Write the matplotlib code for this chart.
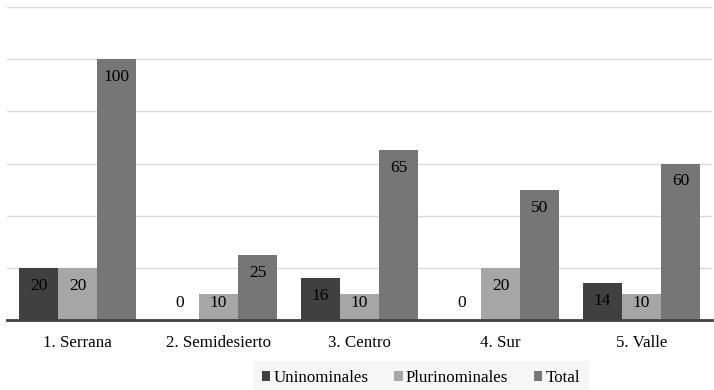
import matplotlib
matplotlib.use("Agg")
import matplotlib.pyplot as plt
import numpy as np

categories = ["1. Serrana", "2. Semidesierto", "3. Centro", "4. Sur", "5. Valle"]
series_names = ["Uninominales", "Plurinominales", "Total"]
uninominales = [20, 0, 16, 0, 14]
plurinominales = [20, 10, 10, 20, 10]
total = [100, 25, 65, 50, 60]
colors = ["#404040", "#a6a6a6", "#767676"]

plt.rcParams['font.family'] = ['Liberation Serif', 'DejaVu Serif']

fig = plt.figure(figsize=(7.14, 3.9), dpi=100)
ax = fig.add_axes([7/714, 70/390, 705/714, 313/390])

x = np.arange(len(categories))
w = 0.277
data = [uninominales, plurinominales, total]
for i, (vals, name, c) in enumerate(zip(data, series_names, colors)):
    pos = x + (i - 1) * w
    ax.bar(pos, vals, width=w, color=c, label=name, zorder=3)
    for p, v in zip(pos, vals):
        ax.text(p, max(v - 6.9, 6.5), str(v), ha='center', va='center',
                fontsize=12.5, color='black', zorder=4)

ax.set_xlim(-0.5, len(categories) - 0.5)
ax.set_ylim(0, 120)
ax.set_yticks(np.arange(0, 121, 20))
ax.yaxis.grid(True, color='#d9d9d9', linewidth=1)
ax.set_axisbelow(True)
ax.tick_params(axis='y', left=False, labelleft=False)
ax.tick_params(axis='x', bottom=False, labelsize=12.2, pad=7)
ax.set_xticks(x)
ax.set_xticklabels(categories)
for s in ['top', 'right', 'left']:
    ax.spines[s].set_visible(False)
ax.spines['bottom'].set_color('#404040')
ax.spines['bottom'].set_linewidth(2)
ax.spines['bottom'].set_zorder(5)

leg = fig.legend(loc='center', bbox_to_anchor=(421/714, 1 - 378/390), ncol=3,
                 fontsize=12.2, frameon=True, handlelength=0.5, handleheight=0.5,
                 handletextpad=0.2, columnspacing=1.5, borderpad=0.25)
leg.get_frame().set_facecolor('#f4f4f4')
leg.get_frame().set_edgecolor('none')
leg.get_frame().set_boxstyle('square')

fig.savefig("out.png", dpi=100)
